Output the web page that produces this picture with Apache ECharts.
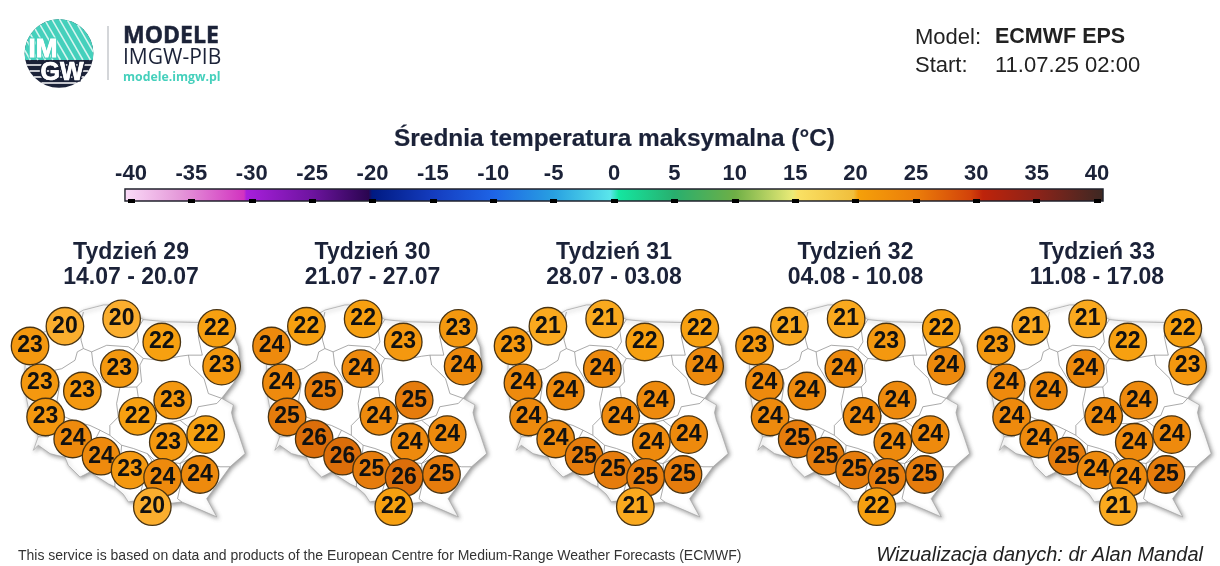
<!DOCTYPE html>
<html>
<head>
<meta charset="utf-8">
<title>Średnia temperatura maksymalna</title>
<script src="https://cdn.jsdelivr.net/npm/echarts@6/dist/echarts.min.js"></script>
<style>
  html, body { margin: 0; padding: 0; background: #fff; }
  #main { width: 1220px; height: 566px; }
</style>
</head>
<body>
<div id="main"></div>
<script>
// tydzien i zakres dat
var weeks = ['Tydzień 29', 'Tydzień 30', 'Tydzień 31', 'Tydzień 32', 'Tydzień 33'];
var dateRanges = ['14.07 - 20.07', '21.07 - 27.07', '28.07 - 03.08', '04.08 - 10.08', '11.08 - 17.08'];

// polozenie kolek (dl., szer. geogr.)
var stationLon = [15.62, 18.32, 20.23, 22.85, 13.96, 23.08, 18.21, 14.43, 16.45, 20.75, 14.70, 19.08, 22.32, 20.54, 15.99, 17.34, 18.72, 20.27, 22.05, 19.78];
var stationLat = [54.21, 54.41, 53.78, 54.15, 53.67, 53.12, 53.05, 52.66, 52.44, 52.19, 51.73, 51.75, 51.25, 51.04, 51.13, 50.66, 50.28, 50.08, 50.16, 49.28];

// wartosci dla kazdego tygodnia
var week29 = [20, 20, 22, 22, 23, 23, 23, 23, 23, 23, 23, 22, 22, 23, 24, 24, 23, 24, 24, 20];
var week30 = [22, 22, 23, 23, 24, 24, 24, 24, 25, 25, 25, 24, 24, 24, 26, 26, 25, 26, 25, 22];
var week31 = [21, 21, 22, 22, 23, 24, 24, 24, 24, 24, 24, 24, 24, 24, 24, 25, 25, 25, 25, 21];
var week32 = [21, 21, 23, 22, 23, 24, 24, 24, 24, 24, 24, 24, 24, 24, 25, 25, 25, 25, 25, 22];
var week33 = [21, 21, 22, 22, 23, 23, 24, 24, 24, 24, 24, 24, 24, 24, 24, 25, 24, 24, 25, 21];
var weekValues = [week29, week30, week31, week32, week33];

// skala kolorow
var scaleTicks = [-40, 40];
var scaleTickStep = 5;
// kolejno dla 20, 21, ... 26 stopni
var bubbleColors = ['#fbae2e', '#faa91e', '#f7a010', '#f4980f', '#ee8a0d', '#e67c0c', '#dc6e0a'];
var stopValues = [-40.5, -36, -30.6, -30.4, -25, -20.3, -20, -15, -10, -5, -0.3, 0.4, 5, 10, 14.8, 15.2, 19.8, 20.2, 25, 29.5, 30.5, 35, 40.5];
var stopColors = ['#fbdcf8', '#e59ada', '#d233c0', '#a81fdc', '#6e14a0', '#2a0550', '#001a82', '#143cbe', '#1e64e6', '#28a0e1', '#5ae6eb', '#14e6a0', '#28af6e', '#6eaf46', '#ebeb78', '#fae164', '#f0be3c', '#f5a00a', '#eb7d0a', '#d2420a', '#be230a', '#8c2319', '#3c2823'];

// kontur polski i granice wojewodztw
var outline = [[13.72,53.05],[13.80,53.83],[14.67,54.06],[15.54,54.33],[16.50,54.65],[17.45,54.79],[18.32,54.79],[19.35,54.39],[20.47,54.33],[22.05,54.31],[23.48,54.19],[23.88,53.65],[23.99,53.01],[23.64,52.65],[23.08,52.24],[23.64,52.06],[23.55,51.85],[23.64,51.64],[23.88,51.28],[24.20,50.73],[23.48,50.37],[22.85,49.87],[22.37,49.50],[22.85,49.00],[22.13,49.18],[21.18,49.41],[20.62,49.37],[20.00,49.50],[19.12,49.46],[18.64,49.41],[18.40,49.62],[18.00,49.82],[17.70,49.90],[17.29,50.05],[16.81,50.23],[16.55,50.15],[16.34,50.09],[15.78,50.41],[15.62,50.64],[15.25,50.68],[14.91,50.73],[14.35,50.96],[14.12,50.82],[14.35,51.19],[13.96,51.73],[13.72,52.46]];
var borders = [
  [[16.50,54.60],[16.34,54.19],[16.39,53.83],[16.50,53.60],[16.21,53.51],[16.10,53.28],[15.47,53.05],[15.15,53.01],[13.77,53.05]],
  [[16.50,53.60],[16.89,53.51],[17.61,53.69],[18.64,53.65],[18.88,53.56],[19.12,53.78],[19.04,54.10],[19.35,54.39]],
  [[16.89,53.51],[16.97,53.15],[17.45,52.69],[18.24,52.54],[19.04,52.55]],
  [[18.88,53.56],[19.35,53.33],[19.19,53.15],[19.27,52.69],[19.04,52.55]],
  [[19.35,53.33],[20.15,53.28],[21.10,53.39],[21.50,53.42],[22.16,53.42],[21.97,53.92],[22.05,54.31]],
  [[21.50,53.42],[21.58,53.15],[22.24,52.78],[22.45,52.37],[23.08,52.24]],
  [[19.04,52.55],[19.12,52.24],[20.00,51.78],[19.92,51.55],[20.47,51.55],[21.10,51.64]],
  [[18.24,52.54],[18.08,52.10],[18.16,51.73],[17.76,51.50],[17.76,51.23],[18.32,50.96]],
  [[15.15,53.01],[15.38,52.65],[15.25,52.19],[15.62,51.73],[16.18,51.60],[16.81,51.50],[17.29,51.37],[17.76,51.23]],
  [[15.62,51.73],[14.83,51.19],[14.35,51.19]],
  [[17.29,51.37],[17.05,51.10],[16.81,50.46],[16.81,50.23]],
  [[18.32,50.96],[18.24,50.46],[18.00,50.10],[18.00,49.82]],
  [[18.32,50.96],[18.88,50.87],[19.54,50.73],[19.75,50.55],[19.38,50.00],[19.12,49.46]],
  [[19.54,50.73],[19.88,50.55],[21.10,50.46],[21.73,50.82],[21.65,51.19],[21.50,51.46],[21.10,51.64]],
  [[21.10,51.64],[21.80,51.77],[21.97,52.01],[22.85,52.10],[23.08,52.24]],
  [[21.10,50.46],[21.73,50.64],[22.37,50.46],[23.00,50.37],[23.48,50.37]],
  [[21.10,50.46],[21.18,50.00],[20.98,49.50],[21.18,49.41]]
];

// osie mapy
var mapLon = [12.53, 24.43];
var mapLat = [48.37, 55.2];

var FONT = '"Liberation Sans", Arial, sans-serif';
var NAVY = '#1b2238';
var TEAL = '#45d0bc';
var panelStep = 241.5;

var myChart = echarts.init(document.getElementById('main'));

function txt(x, y, text, size, opts) {
  opts = opts || {};
  var el = {
    type: 'text', x: x, y: y, silent: true,
    style: {
      text: text,
      font: (opts.style || '') + ' ' + (opts.weight || 'normal') + ' ' + size + 'px ' + (opts.family || FONT),
      fill: opts.color || NAVY,
      align: opts.align || 'left',
      verticalAlign: 'middle'
    }
  };
  if (opts.thick) {
    el.style.stroke = opts.edge || opts.color || NAVY;
    el.style.lineWidth = opts.thick;
  }
  return el;
}

function logoElements() {
  var cx = 59, cy = 53.5, r = 34.3, cut = 60;
  var els = [];
  els.push({ type: 'circle', shape: { cx: cx, cy: cy, r: r }, style: { fill: NAVY } });

  // gorna czesc turkusowa
  var pts = [];
  var a0 = Math.asin((cut - cy) / r);
  for (var i = 0; i <= 60; i++) {
    var a = Math.PI - a0 + (Math.PI + 2 * a0) * i / 60;
    pts.push([cx + r * Math.cos(a), cy + r * Math.sin(a)]);
  }
  els.push({ type: 'polygon', shape: { points: pts }, style: { fill: TEAL } });

  // ukosne paski
  var dx = 0.5, dy = 0.866;
  for (var c = -54; c <= 54; c += 6.5) {
    var px = cx + c * dy, py = cy - c * dx;
    var b = (px - cx) * dx + (py - cy) * dy;
    var q = (px - cx) * (px - cx) + (py - cy) * (py - cy) - r * r;
    var d = b * b - q;
    if (d <= 0) continue;
    var t1 = -b - Math.sqrt(d), t2 = -b + Math.sqrt(d);
    t2 = Math.min(t2, (cut - py) / dy);
    if (t2 <= t1) continue;
    els.push({ type: 'line', shape: { x1: px + t1 * dx, y1: py + t1 * dy, x2: px + t2 * dx, y2: py + t2 * dy }, style: { stroke: '#d8f5f0', lineWidth: 1.5 } });
  }

  // poziome paski
  [65, 71, 77, 83].forEach(function (y) {
    var h = Math.sqrt(r * r - (y - cy) * (y - cy));
    els.push({ type: 'line', shape: { x1: cx - h, y1: y, x2: cx + h, y2: y }, style: { stroke: '#fff', lineWidth: 1.4 } });
  });

  els.push(txt(43, 50, 'IM', 26, { weight: 'bold', color: '#fff', align: 'center', thick: 3, edge: TEAL }));
  els.push(txt(43, 50, 'IM', 26, { weight: 'bold', color: '#fff', align: 'center', thick: 0.8 }));
  els.push(txt(62, 73, 'GW', 25, { weight: 'bold', color: '#fff', align: 'center', thick: 3.5, edge: NAVY }));
  els.push(txt(62, 73, 'GW', 25, { weight: 'bold', color: '#fff', align: 'center', thick: 0.6 }));

  els.push({ type: 'line', shape: { x1: 108, y1: 26, x2: 108, y2: 80 }, style: { stroke: '#a9adb3', lineWidth: 1 } });
  els.push(txt(123, 36, 'MODELE', 23, { weight: 'bold', family: '"Open Sans", sans-serif', thick: 0.5 }));
  els.push(txt(123, 58, 'IMGW-PIB', 21, { family: '"Open Sans", sans-serif' }));
  els.push(txt(123, 77, 'modele.imgw.pl', 12.3, { weight: 'bold', color: TEAL, family: '"Open Sans", sans-serif' }));
  return els;
}

var texts = [
  txt(915, 37.5, 'Model:', 22, { color: '#222' }),
  txt(995, 37.5, 'ECMWF EPS', 21.5, { weight: 'bold', color: '#222' }),
  txt(915, 65.5, 'Start:', 22, { color: '#222' }),
  txt(995, 65.5, '11.07.25 02:00', 22, { color: '#222' }),
  txt(614.5, 139, 'Średnia temperatura maksymalna (°C)', 24.4, { weight: 'bold', align: 'center', thick: 0.2 }),
  txt(18, 556, 'This service is based on data and products of the European Centre for Medium-Range Weather Forecasts (ECMWF)', 14, { color: '#333' }),
  txt(1203, 555, 'Wizualizacja danych: dr Alan Mandal', 20, { style: 'italic', color: '#222', align: 'right' })
];
weeks.forEach(function (w, i) {
  var x = 131 + panelStep * i;
  texts.push(txt(x, 252.5, w, 23, { weight: 'bold', align: 'center' }));
  texts.push(txt(x, 278, dateRanges[i], 23, { weight: 'bold', align: 'center' }));
});

function renderMap(params, api) {
  var toPx = function (p) { return api.coord(p); };
  var children = [{
    type: 'polygon',
    shape: { points: outline.map(toPx) },
    style: { fill: '#fff', stroke: '#a5a5a5', lineWidth: 0.7, shadowColor: 'rgba(80,80,80,0.6)', shadowBlur: 4, shadowOffsetX: 1.5, shadowOffsetY: 1.5 }
  }];
  borders.forEach(function (b) {
    children.push({ type: 'polyline', shape: { points: b.map(toPx) }, style: { fill: null, stroke: '#858585', lineWidth: 0.7 } });
  });
  return { type: 'group', children: children };
}

function renderBar(params, api) {
  var a = api.coord([stopValues[0], 0]);
  var b = api.coord([stopValues[stopValues.length - 1], 1]);
  var span = stopValues[stopValues.length - 1] - stopValues[0];
  var stops = stopValues.map(function (v, i) {
    return { offset: (v - stopValues[0]) / span, color: stopColors[i] };
  });
  return {
    type: 'rect',
    shape: { x: a[0], y: b[1], width: b[0] - a[0], height: a[1] - b[1] },
    style: { fill: new echarts.graphic.LinearGradient(0, 0, 1, 0, stops), stroke: '#20222c', lineWidth: 1.4 }
  };
}

var grids = [], xAxes = [], yAxes = [], series = [];
weeks.forEach(function (w, i) {
  grids.push({ left: panelStep * i, top: 290, width: 250, height: 250 });
  xAxes.push({ type: 'value', gridIndex: i, min: mapLon[0], max: mapLon[1], show: false });
  yAxes.push({ type: 'value', gridIndex: i, min: mapLat[0], max: mapLat[1], show: false });
  series.push({
    type: 'custom', xAxisIndex: i, yAxisIndex: i, silent: true, z: 1,
    renderItem: renderMap, data: [[19, 52]]
  });
  series.push({
    type: 'scatter', name: w, xAxisIndex: i, yAxisIndex: i, z: 3,
    symbolSize: 37.5,
    itemStyle: { borderColor: '#4a3412', borderWidth: 1.3, opacity: 1 },
    label: {
      show: true, position: 'inside', color: '#111', fontFamily: FONT, fontWeight: 'bold', fontSize: 23,
      formatter: function (p) { return p.value[2]; }
    },
    data: weekValues[i].map(function (v, k) { return [stationLon[k], stationLat[k], v]; })
  });
});

// pasek skali
var barGrid = weeks.length;
grids.push({ left: 131, top: 189, width: 966, height: 12 });
var tickStyle = { show: true, inside: true, length: 2, lineStyle: { color: '#000', width: 7 } };
xAxes.push({
  type: 'value', gridIndex: barGrid, position: 'top', z: 5,
  min: scaleTicks[0], max: scaleTicks[1], interval: scaleTickStep,
  axisLine: { show: false }, splitLine: { show: false }, axisTick: tickStyle,
  axisLabel: { color: NAVY, fontFamily: FONT, fontWeight: 'bold', fontSize: 22, margin: 4 }
});
xAxes.push({
  type: 'value', gridIndex: barGrid, position: 'bottom', z: 5,
  min: scaleTicks[0], max: scaleTicks[1], interval: scaleTickStep,
  axisLine: { show: false }, splitLine: { show: false }, axisTick: tickStyle, axisLabel: { show: false }
});
yAxes.push({ type: 'value', gridIndex: barGrid, min: 0, max: 1, show: false });
series.push({
  type: 'custom', xAxisIndex: xAxes.length - 2, yAxisIndex: barGrid, silent: true, z: 2,
  renderItem: renderBar, data: [[0, 0]]
});

myChart.setOption({
  animation: false,
  backgroundColor: '#fff',
  grid: grids,
  xAxis: xAxes,
  yAxis: yAxes,
  visualMap: {
    show: false,
    type: 'continuous',
    seriesIndex: [1, 3, 5, 7, 9],
    dimension: 2,
    min: 20,
    max: 26,
    inRange: { color: bubbleColors }
  },
  graphic: { elements: logoElements().concat(texts) },
  series: series
});
</script>
</body>
</html>
